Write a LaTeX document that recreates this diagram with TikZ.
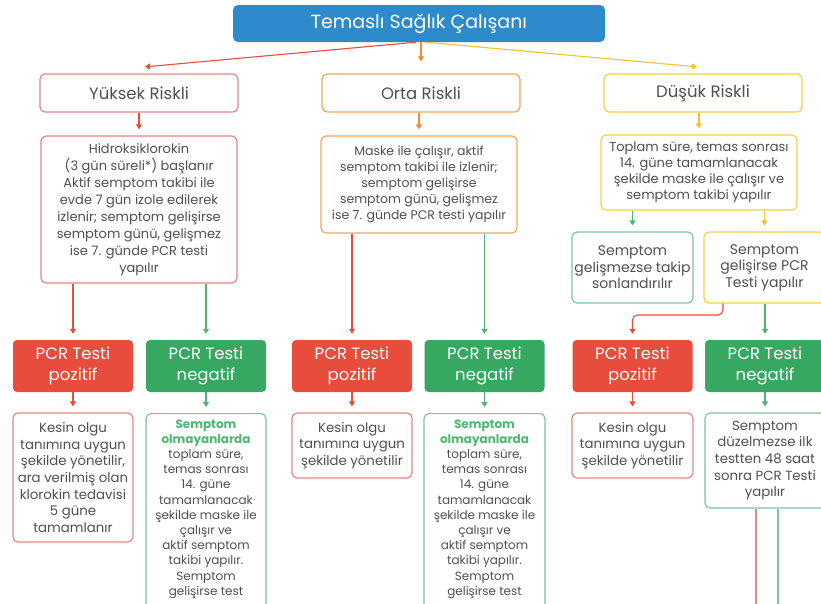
\documentclass[tikz,border=0pt]{standalone}
\usepackage{fontspec}
\setmainfont{Poppins}
\usetikzlibrary{arrows.meta}
\definecolor{cblue}{RGB}{46,139,203}
\definecolor{cred}{RGB}{232,76,61}
\definecolor{cgreen}{RGB}{55,168,98}
\definecolor{bred}{RGB}{233,133,133}
\definecolor{borange}{RGB}{242,166,90}
\definecolor{byellow}{RGB}{247,207,74}
\definecolor{bgreen}{RGB}{124,199,154}
\definecolor{agreen}{RGB}{77,181,111}
\definecolor{aorange}{RGB}{239,138,53}
\definecolor{ayellow}{RGB}{242,194,48}
\definecolor{ctext}{RGB}{80,80,80}
\definecolor{tgreen}{RGB}{76,184,112}
\begin{document}
\begin{tikzpicture}[x=1pt,y=-1pt,
  box/.style={draw, rounded corners=5pt, line width=1.2pt, fill=white, align=center, text=ctext, inner sep=0pt},
  risk/.style={box, minimum width=198pt, minimum height=38pt, font=\fontsize{16.5}{19}\selectfont},
  pcr/.style={rounded corners=4pt, align=center, text=white, inner sep=0pt, minimum width=120pt, minimum height=52pt, font=\fontsize{16.5}{20.5}\selectfont},
  arr/.style={line width=1.1pt, -{Triangle[width=6pt,length=5pt]}, shorten >=6pt},
  ared/.style={arr, draw=cred, color=cred},
  agr/.style={arr, draw=agreen, color=agreen},
  aor/.style={arr, draw=aorange, color=aorange},
  aye/.style={arr, draw=ayellow, color=ayellow}]
\useasboundingbox (0,0) rectangle (821,603);
\clip (0,0) rectangle (821,603);
\fill[white] (0,0) rectangle (821,603);

% title
\node[rounded corners=5pt, fill=cblue, text=white, minimum width=372pt, minimum height=37pt, inner sep=0pt,
  font=\fontsize{19}{22}\selectfont] (title) at (419,23.5) {Temaslı Sağlık Çalışanı};

% risk boxes
\node[risk, draw=bred] (yuk) at (139,93) {Yüksek Riskli};
\node[risk, draw=borange] (orta) at (421,93) {Orta Riskli};
\node[risk, draw=byellow] (dus) at (703,93) {Düşük Riskli};

\draw[ared] ([xshift=-3pt]title.south) -- ([yshift=6pt]yuk.north);
\draw[aor, shorten >=12pt] (orta.north |- title.south) -- (orta.north);
\draw[aye] ([xshift=7pt]title.south) -- ([yshift=6pt]dus.north);

% second row
\node[box, draw=bred, minimum width=196pt, minimum height=147pt, font=\fontsize{13}{17}\selectfont] (y2) at (139,209.5)
 {Hidroksiklorokin\\(3 gün süreli*) başlanır\\Aktif semptom takibi ile\\evde 7 gün izole edilerek\\izlenir; semptom gelişirse\\semptom günü, gelişmez\\ise 7. günde PCR testi\\yapılır};
\node[box, draw=borange, minimum width=196pt, minimum height=97pt, font=\fontsize{12.5}{16}\selectfont] (o2) at (419,184.5)
 {Maske ile çalışır, aktif\\semptom takibi ile izlenir;\\semptom gelişirse\\semptom günü, gelişmez\\ise 7. günde PCR testi yapılır};
\node[box, draw=byellow, minimum width=196pt, minimum height=75pt, font=\fontsize{13}{16}\selectfont] (d2) at (699,172.5)
 {Toplam süre, temas sonrası\\14. güne tamamlanacak\\şekilde maske ile çalışır ve\\semptom takibi yapılır};

\draw[ared] (yuk.south -| y2.north) -- (y2.north);
\draw[aor] (orta.south -| o2.north) -- (o2.north);
\draw[aye] (dus.south -| d2.north) -- (d2.north);

% düşük third row
\node[box, draw=bgreen, minimum width=121pt, minimum height=71pt, font=\fontsize{14}{16.5}\selectfont] (d3a) at (632.5,267.5)
 {Semptom\\gelişmezse takip\\sonlandırılır};
\node[box, draw=byellow, minimum width=121pt, minimum height=71pt, font=\fontsize{14}{16.5}\selectfont] (d3b) at (764.5,267.5)
 {Semptom\\gelişirse PCR\\Testi yapılır};
\draw[agr] (d3a.north |- d2.south) -- (d3a.north);
\draw[aye] (d3b.north |- d2.south) -- (d3b.north);

% PCR boxes
\node[pcr, fill=cred] (ypos) at (73,366) {PCR Testi\\pozitif};
\node[pcr, fill=cgreen] (yneg) at (206,366) {PCR Testi\\negatif};
\node[pcr, fill=cred] (opos) at (352,366) {PCR Testi\\pozitif};
\node[pcr, fill=cgreen] (oneg) at (484.5,366) {PCR Testi\\negatif};
\node[pcr, fill=cred] (dpos) at (632.5,366) {PCR Testi\\pozitif};
\node[pcr, fill=cgreen] (dneg) at (765,366) {PCR Testi\\negatif};

\draw[ared] (ypos.north |- y2.south) -- (ypos.north);
\draw[agr] (yneg.north |- y2.south) -- (yneg.north);
\draw[ared] (opos.north |- o2.south) -- (opos.north);
\draw[agr] (oneg.north |- o2.south) -- (oneg.north);
\coordinate (dturn) at (723,315);
\draw[ared, rounded corners=5pt] (dturn |- d3b.south) -- (dturn) -| (dpos.north);
\draw[agr] (dneg.north |- d3b.south) -- (dneg.north);

% bottom row
\node[box, draw=bred, minimum width=120pt, minimum height=129pt, font=\fontsize{13.3}{16.7}\selectfont] (ykes) at (73,477.5)
 {Kesin olgu\\tanımına uygun\\şekilde yönetilir,\\ara verilmiş olan\\klorokin tedavisi\\5 güne\\tamamlanır};
\node[box, draw=bgreen, minimum width=120pt, anchor=north, inner ysep=6pt, font=\fontsize{12}{15.2}\selectfont] (yola) at (206,413)
 {\textcolor{tgreen}{\textbf{Semptom}}\\\textcolor{tgreen}{\textbf{olmayanlarda}}\\toplam süre,\\temas sonrası\\14. güne\\tamamlanacak\\şekilde maske ile\\çalışır ve\\aktif semptom\\takibi yapılır.\\Semptom\\gelişirse test\\\strut};
\node[box, draw=bred, minimum width=120pt, minimum height=65pt, font=\fontsize{13.3}{16.7}\selectfont] (okes) at (352,445.5)
 {Kesin olgu\\tanımına uygun\\şekilde yönetilir};
\node[box, draw=bgreen, minimum width=121pt, anchor=north, inner ysep=6pt, font=\fontsize{12}{15.2}\selectfont] (oola) at (484.5,413)
 {\textcolor{tgreen}{\textbf{Semptom}}\\\textcolor{tgreen}{\textbf{olmayanlarda}}\\toplam süre,\\temas sonrası\\14. güne\\tamamlanacak\\şekilde maske ile\\çalışır ve\\aktif semptom\\takibi yapılır.\\Semptom\\gelişirse test\\\strut};
\node[box, draw=bred, minimum width=121pt, minimum height=65pt, font=\fontsize{13.3}{16.7}\selectfont] (dkes) at (632.5,445.5)
 {Kesin olgu\\tanımına uygun\\şekilde yönetilir};
\node[box, draw=bgreen, minimum width=120pt, minimum height=95pt, font=\fontsize{13.3}{16.7}\selectfont] (ddz) at (765,460.5)
 {Semptom\\düzelmezse ilk\\testten 48 saat\\sonra PCR Testi\\yapılır};

\draw[ared] (ypos.south) -- (ykes.north);
\draw[agr] (yneg.south) -- (yola.north);
\draw[ared] (opos.south) -- (okes.north);
\draw[agr] (oneg.south) -- (oola.north);
\draw[ared] (dpos.south) -- (dkes.north);
\draw[agr] (dneg.south) -- (ddz.north);

\coordinate (dr) at (756,620);
\coordinate (dg) at (778,620);
\draw[line width=1.1pt, draw=bred] (dr |- ddz.south) -- (dr);
\draw[line width=1.1pt, draw=bgreen] (dg |- ddz.south) -- (dg);
\end{tikzpicture}
\end{document}
